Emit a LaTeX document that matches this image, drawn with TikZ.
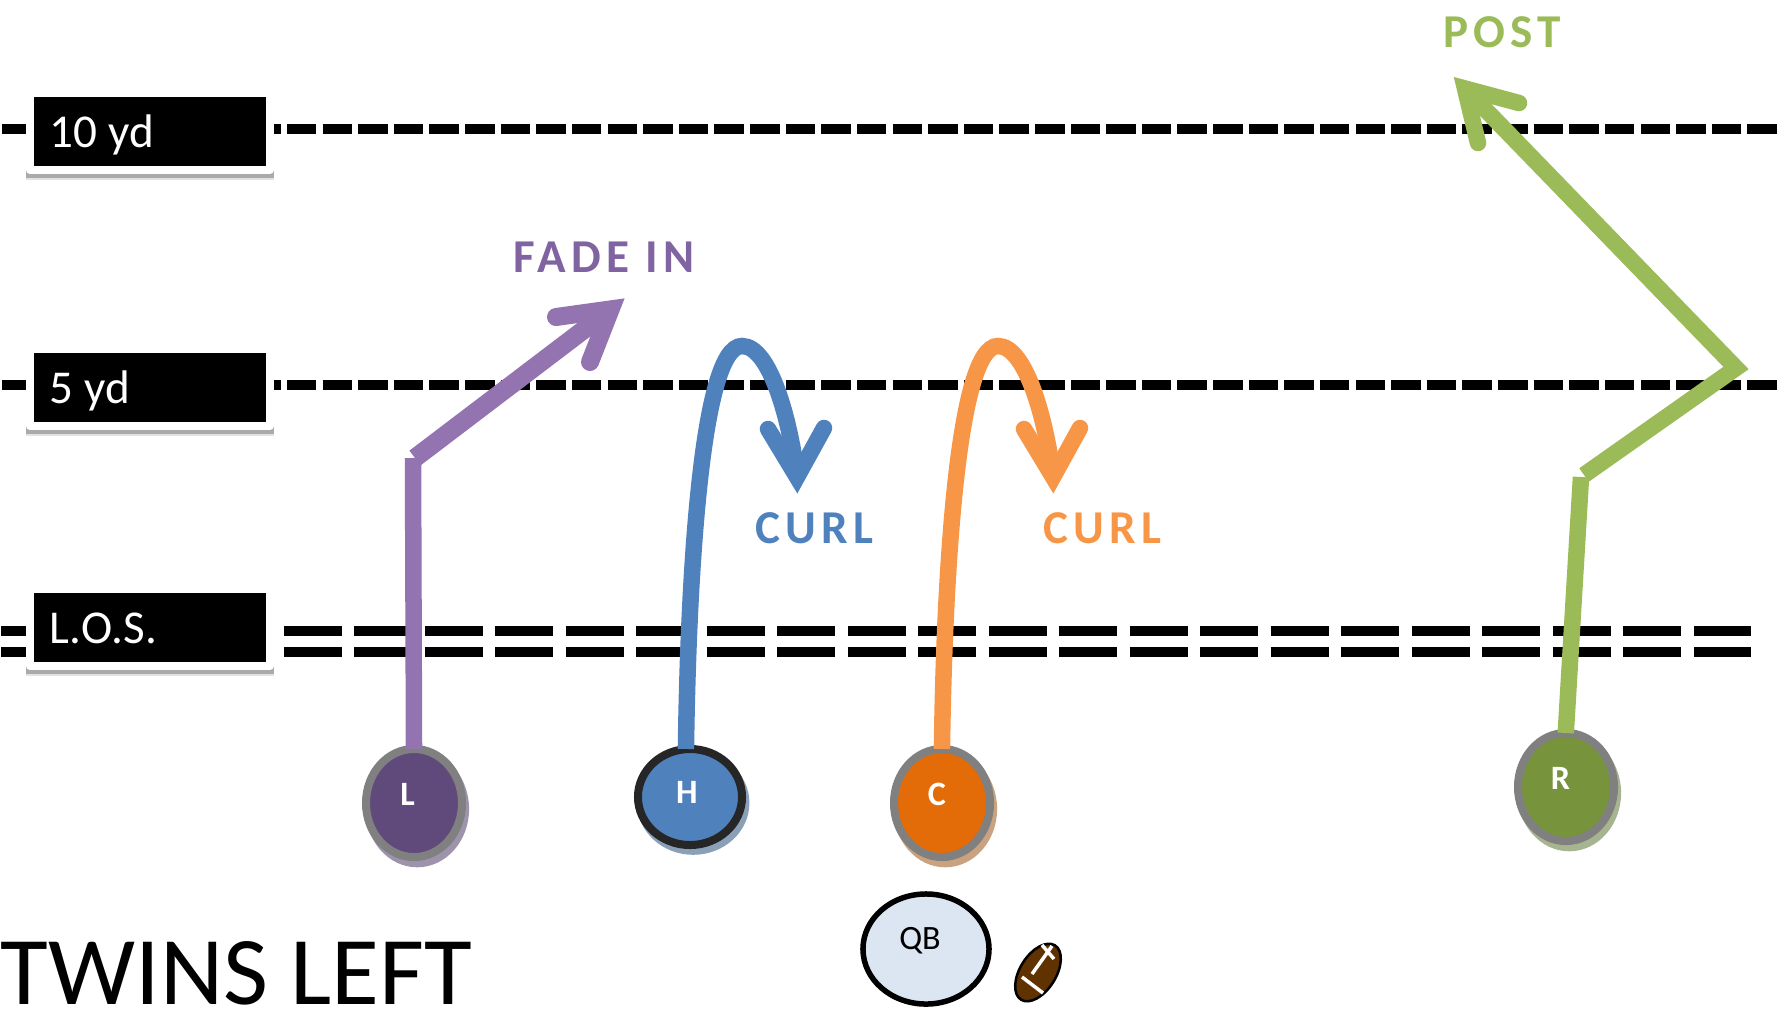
\documentclass[tikz,border=0pt]{standalone}
\usepackage{fontspec}
\setmainfont{Carlito}
\newfontfamily\wideface[LetterSpace=11]{Carlito}
\newcommand\tightwords{\spaceskip 0.235em\relax}
\usetikzlibrary{shapes.geometric,shadows}
\definecolor{fadeline}{HTML}{9473B1}
\definecolor{fadetext}{HTML}{8064A2}
\definecolor{fadefill}{HTML}{604A7B}
\definecolor{fadelift}{HTML}{9D94AB}
\definecolor{curlblue}{HTML}{4F81BD}
\definecolor{bluelift}{HTML}{8AA0B8}
\definecolor{curlorange}{HTML}{F79646}
\definecolor{orangefill}{HTML}{E36C09}
\definecolor{orangelift}{HTML}{CBA27F}
\definecolor{postgreen}{HTML}{9BBB59}
\definecolor{greenfill}{HTML}{77933C}
\definecolor{greenlift}{HTML}{A6B48F}
\definecolor{qbfill}{HTML}{DCE6F2}
\definecolor{ballfill}{HTML}{603200}
\tikzset{
  yardline/.style={line width=0.1cm,dash pattern=on 0.295cm off 0.061cm},
  losline/.style={line width=0.1cm,dash pattern=on 0.58cm off 0.1247cm},
  yardbox/.style={draw=white,fill=black,text=white,line width=0.08cm,line join=round,minimum width=2.4cm,minimum height=0.77cm,
    text width=2cm,inner sep=0pt,text height=0.325cm,text depth=0cm,font=\fontsize{13.4}{15}\selectfont,
    drop shadow={shadow xshift=0cm,shadow yshift=-0.09cm,shadow scale=1.03,fill=black!45,opacity=0.25},
    drop shadow={shadow xshift=0cm,shadow yshift=-0.065cm,shadow scale=1.03,fill=black!55,opacity=0.5}},
  player/.style={ellipse,inner sep=0pt,line width=0.08cm,draw=#1,minimum width=0.96cm,minimum height=1.08cm},
  lift/.style={drop shadow={shadow xshift=0.03cm,shadow yshift=-0.055cm,shadow scale=1.08,fill=#1,opacity=1}},
  pltag/.style={text=white,inner sep=0pt,font=\fontsize{9.7}{11}\selectfont\bfseries},
  route/.style={line width=0.165cm,shorten <=-0.04cm},
  leg/.style={line width=0.165cm},
  barb/.style={line width=0.165cm,line cap=round,line join=miter,miter limit=10},
  playname/.style={inner sep=0pt,font=\fontsize{13.4}{15}\wideface\bfseries},
  seam/.style={white,line width=0.035cm}
}
\begin{document}
\begin{tikzpicture}[x=0.01cm,y=0.01cm]
\useasboundingbox (0,-1008) rectangle (1787,0);
% yard markers
\coordinate (tenL) at (2,-129);
\coordinate (tenR) at (1777,-129);
\coordinate (fiveL) at (2,-385);
\coordinate (fiveR) at (1777,-385);
\coordinate (losaL) at (1.5,-631);
\coordinate (losaR) at (1751,-631);
\coordinate (losbL) at (1.5,-652);
\coordinate (losbR) at (1751,-652);
\draw [yardline] (tenL) -- (tenR);
\draw [yardline] (fiveL) -- (fiveR);
\draw [losline] (losaL) -- (losaR);
\draw [losline] (losbL) -- (losbR);
\node [yardbox] (tenbox) at (150,-131.5) {\tightwords 10 yd};
\node [yardbox] (fivebox) at (150,-387.5) {\tightwords 5 yd};
\node [yardbox] (losbox) at (150,-627.5) {L.O.S.};
% players
\node [player=black!50,fill=fadefill,lift=fadelift] (L) at (414,-803) {};
\node [player=black!85,fill=curlblue,minimum width=1.04cm,minimum height=0.96cm,lift=bluelift] (H) at (690,-797) {};
\node [player=black!50,fill=orangefill,lift=orangelift] (C) at (942,-803) {};
\node [player=black!50,fill=greenfill,lift=greenlift] (R) at (1566,-787) {};
\node [player=black,line width=0.055cm,fill=qbfill,minimum width=1.26cm,minimum height=1.1cm] (QB) at (926,-949) {};
\node [pltag] (Ltag) at (407.5,-794) {L};
\node [pltag] (Htag) at (687,-792) {H};
\node [pltag] (Ctag) at (937,-794.5) {C};
\node [pltag] (Rtag) at (1560.5,-778) {R};
\node [pltag,text=black,font=\fontsize{9.7}{11}\selectfont] (QBtag) at (920,-941) {QB};
% football
\node [ellipse,draw=black,line width=0.025cm,fill=ballfill,minimum width=0.36cm,minimum height=0.64cm,rotate=-32,inner sep=0pt] (ball) at (1038,-972.5) {};
\draw [seam] (1032,-974) -- (1052,-946);
\draw [seam] (1042,-945) -- (1054,-959);
\draw [seam] (1022,-977) -- (1043,-993);
% routes
\coordinate (Lturn) at (413,-458);
\coordinate (Ltop) at (415,-458);
\coordinate (Lneck) at (610.6,-309.4);
\coordinate (Lbarba) at (556,-317);
\coordinate (Lbarbb) at (590,-362);
\draw [route,fadeline] (L.north) -- (Lturn);
\draw [leg,fadeline,line width=0.185cm] (Ltop) -- (Lneck);
\draw [barb,fadeline,line width=0.18cm] (Lbarba) -- (Lneck) -- (Lbarbb);
\coordinate (Hcrest) at (742,-346);
\coordinate (Hneck) at (797,-477);
\coordinate (Hbarba) at (768,-429);
\coordinate (Hbarbb) at (824,-428);
\draw [route,curlblue] ([xshift=-0.04cm]H.north) .. controls (688,-590) and (700,-346) .. (Hcrest) .. controls (770,-346) and (790,-420) .. (Hneck);
\draw [barb,curlblue] (Hbarba) -- (Hneck) -- (Hbarbb);
\coordinate (Ccrest) at (998,-346);
\coordinate (Cneck) at (1053,-477);
\coordinate (Cbarba) at (1024,-429);
\coordinate (Cbarbb) at (1080,-428);
\draw [route,curlorange] (C.north) .. controls (944,-590) and (956,-346) .. (Ccrest) .. controls (1026,-346) and (1046,-420) .. (Cneck);
\draw [barb,curlorange] (Cbarba) -- (Cneck) -- (Cbarbb);
\coordinate (Rturn) at (1581,-477);
\coordinate (Rtop) at (1584,-475);
\coordinate (Rapex) at (1736,-368);
\coordinate (Rneck) at (1465,-88.5);
\coordinate (Rbarba) at (1519,-103);
\coordinate (Rbarbb) at (1478,-143);
\draw [route,postgreen] (R.north) -- (Rturn);
\draw [leg,postgreen] (Rtop) -- (Rapex) -- (Rneck);
\draw [barb,postgreen] (Rbarba) -- (Rneck) -- (Rbarbb);
% route names
\node [playname,text=fadetext] (fadename) at (604,-257) {FADE IN};
\node [playname,text=curlblue] (curlaname) at (814.5,-528) {CURL};
\node [playname,text=curlorange] (curlbname) at (1102.5,-528) {CURL};
\node [playname,text=postgreen] (postname) at (1502,-32.5) {POST};
\node [anchor=base west,inner sep=0pt,xscale=1.008,transform shape,font=\fontsize{27.6}{32}\selectfont] (formation) at (0,-1004.5) {TWINS LEFT};
\end{tikzpicture}
\end{document}
